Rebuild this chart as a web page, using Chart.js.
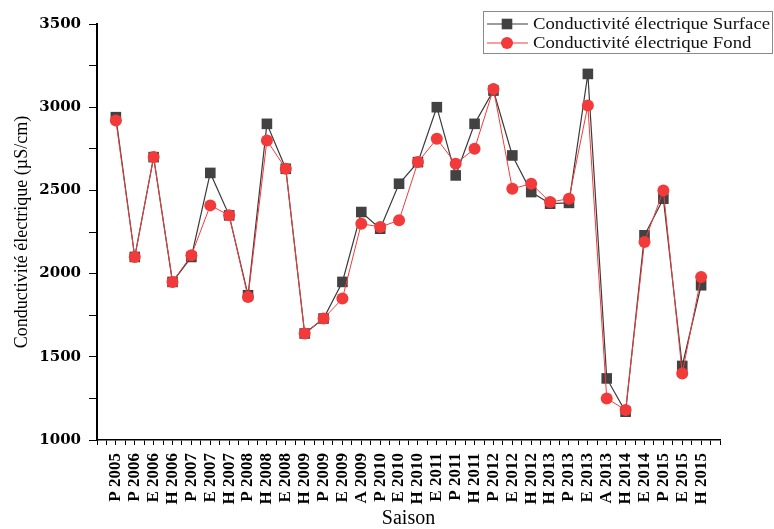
<!DOCTYPE html>
<html>
<head>
<meta charset="utf-8">
<script src="https://cdn.jsdelivr.net/npm/chart.js@4/dist/chart.umd.min.js"></script>
<style>
  html, body { margin: 0; padding: 0; background: #fff; }
  #wrap { width: 774px; height: 529px; }
</style>
</head>
<body>
<div id="wrap"><canvas id="chart" width="774" height="529"></canvas></div>
<script>
// season labels (x axis)
const seasons = [
  "P 2005", "P 2006", "E 2006", "H 2006", "P 2007", "E 2007", "H 2007", "P 2008",
  "H 2008", "E 2008", "H 2009", "P 2009", "E 2009", "A 2009", "P 2010", "E 2010",
  "H 2010", "E 2011", "P 2011", "H 2011", "P 2012", "E 2012", "H 2012", "H 2013",
  "P 2013", "E 2013", "A 2013", "H 2014", "E 2014", "P 2015", "E 2015", "H 2015"
];

// conductivity values (µS/cm)
const surface = [
  2940, 2100, 2700, 1950, 2100, 2605, 2350, 1870,
  2900, 2630, 1640, 1730, 1950, 2370, 2270, 2540,
  2670, 3000, 2590, 2900, 3100, 2710, 2490, 2420,
  2425, 3200, 1370, 1170, 2230, 2450, 1445, 1930
];
const fond = [
  2920, 2100, 2700, 1950, 2110, 2410, 2350, 1860,
  2800, 2630, 1640, 1730, 1850, 2300, 2280, 2320,
  2670, 2810, 2660, 2750, 3110, 2510, 2540, 2430,
  2450, 3010, 1250, 1180, 2190, 2500, 1400, 1980
];

const yTicks = [1000, 1500, 2000, 2500, 3000, 3500];

const serif = "'Liberation Serif', 'Times New Roman', serif";

function toPoints(values) {
  return values.map((v, i) => ({ x: i, y: v }));
}

// legend in a framed box, top right, like the original
const boxLegend = {
  id: "boxLegend",
  afterDraw(chart) {
    const ctx = chart.ctx;
    ctx.save();
    ctx.strokeStyle = "#8a8a8a";
    ctx.lineWidth = 1;
    ctx.strokeRect(483.5, 11.5, 289, 42);

    const rows = [1, 0]; // Surface first, then Fond
    rows.forEach((idx, r) => {
      const ds = chart.data.datasets[idx];
      const y = 24 + r * 19;
      ctx.strokeStyle = ds.borderColor;
      ctx.lineWidth = ds.borderWidth;
      ctx.beginPath();
      ctx.moveTo(487, y);
      ctx.lineTo(528, y);
      ctx.stroke();
      ctx.fillStyle = ds.pointBackgroundColor;
      Chart.helpers.drawPoint(ctx, {
        pointStyle: ds.pointStyle,
        radius: ds.pointRadius,
        rotation: 0,
        borderWidth: 0
      }, 507, y);
      // the original text is a bit wide, stretch it horizontally
      ctx.save();
      ctx.translate(533, y + 1);
      ctx.scale(1.17, 1);
      ctx.fillStyle = "#111";
      ctx.font = "16px " + serif;
      ctx.textBaseline = "middle";
      ctx.textAlign = "left";
      ctx.fillText(ds.label, 0, 0);
      ctx.restore();
    });
    ctx.restore();
  }
};

const ctx = document.getElementById("chart").getContext("2d");
new Chart(ctx, {
  type: "line",
  data: {
    datasets: [
      {
        label: "Conductivité électrique Fond",
        data: toPoints(fond),
        borderColor: "#f03c3c",
        borderWidth: 1,
        pointStyle: "circle",
        pointRadius: 6,
        pointBackgroundColor: "#f23a3a",
        pointBorderWidth: 0,
        order: 1
      },
      {
        label: "Conductivité électrique Surface",
        data: toPoints(surface),
        borderColor: "#3a3a3a",
        borderWidth: 1.2,
        pointStyle: "rect",
        pointRadius: 7.5,
        pointBackgroundColor: "#424242",
        pointBorderWidth: 0,
        order: 2
      }
    ]
  },
  options: {
    responsive: false,
    animation: false,
    layout: { padding: { top: 24, right: 54, bottom: 0, left: 0 } },
    plugins: {
      legend: { display: false },
      tooltip: { enabled: false }
    },
    scales: {
      x: {
        type: "linear",
        min: -1,
        max: 32,
        afterFit(scale) { scale.height = 89; },
        border: { color: "#000", width: 1.5 },
        grid: { drawOnChartArea: false, drawTicks: true, tickLength: 5, tickColor: "#000" },
        ticks: {
          stepSize: 0.5,
          autoSkip: false,
          minRotation: 90,
          maxRotation: 90,
          padding: 8,
          color: "#000",
          font: { family: serif, size: 17, weight: "bold" },
          callback: (v) => (Number.isInteger(v) && v >= 0 && v < seasons.length) ? seasons[v] : ""
        },
        title: {
          display: true,
          text: "Saison",
          color: "#000",
          padding: { top: 0, bottom: 0 },
          font: { family: serif, size: 20, lineHeight: 1 }
        }
      },
      y: {
        min: yTicks[0],
        max: yTicks[yTicks.length - 1],
        afterFit(scale) { scale.width = 97; },
        border: { color: "#000", width: 2 },
        grid: { drawOnChartArea: false, drawTicks: true, tickLength: 8, tickColor: "#000" },
        ticks: {
          stepSize: 250,
          padding: 8,
          color: "#000",
          font: { family: "'DejaVu Serif', serif", size: 15, weight: "bold" },
          callback: (v) => yTicks.includes(v) ? String(v) : ""
        },
        title: {
          display: true,
          text: "Conductivité électrique (µS/cm)",
          color: "#000",
          padding: { top: 13, bottom: 0 },
          font: { family: serif, size: 18, lineHeight: 1 }
        }
      }
    }
  },
  plugins: [boxLegend]
});
</script>
</body>
</html>
